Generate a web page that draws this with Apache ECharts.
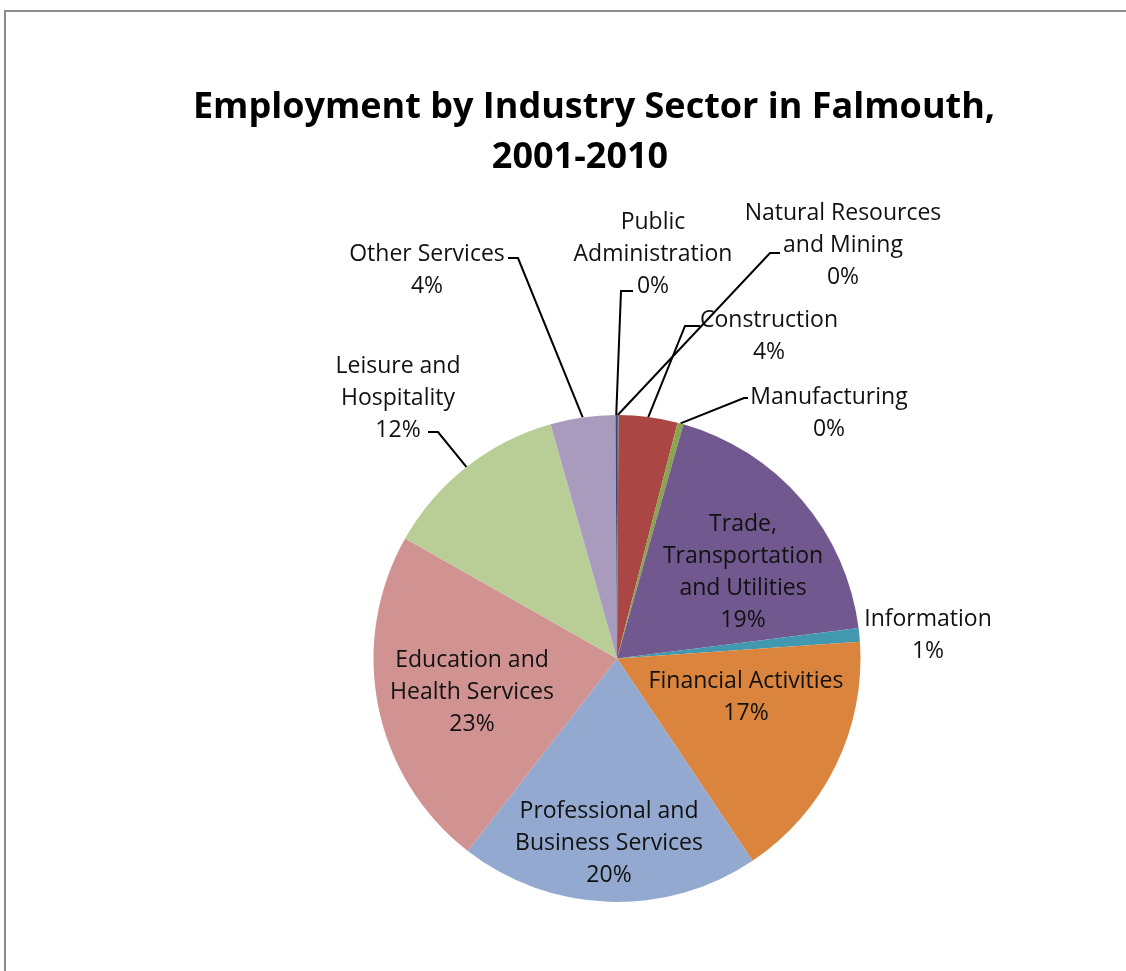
<!DOCTYPE html>
<html>
<head>
<meta charset="utf-8">
<script src="https://cdn.jsdelivr.net/npm/echarts@6/dist/echarts.min.js"></script>
<style>
html,body{margin:0;padding:0;background:#fff;}
#chart{width:1126px;height:971px;}
</style>
</head>
<body>
<div id="chart"></div>
<script>
// Data (percent share), clockwise from 12 o'clock
const categories = [
  'Natural Resources and Mining', 'Construction', 'Manufacturing',
  'Trade, Transportation and Utilities', 'Information', 'Financial Activities',
  'Professional and Business Services', 'Education and Health Services',
  'Leisure and Hospitality', 'Other Services', 'Public Administration'
];
const values = [0.1, 3.9, 0.4, 18.6, 0.9, 16.7, 19.9, 22.7, 12.4, 4.3, 0.1];
// Label text lines as displayed (wrapping)
const labelNames = [
  'Natural Resources\nand Mining', 'Construction', 'Manufacturing',
  'Trade,\nTransportation\nand Utilities', 'Information', 'Financial Activities',
  'Professional and\nBusiness Services', 'Education and\nHealth Services',
  'Leisure and\nHospitality', 'Other Services', 'Public\nAdministration'
];
const titleLines = ['Employment by Industry Sector in Falmouth,', '2001-2010'];
const colors = ['#4572A7', '#AA4643', '#89A54E', '#71588F', '#4198AF', '#DB843D',
                '#93A9CF', '#D19392', '#B9CD96', '#A99BBD', '#2C4D75'];

// label centre positions (layout only)
const labelPos = [
  [843, 245], [769, 336], [829, 413], [743, 572], [928, 635], [746, 697],
  [609, 843], [472, 692], [398, 398], [427, 270], [653, 254]
];
// leader-line end (where it meets the text) and bend offset (layout only)
const leaderEnd = {
  0: [[780, 253], -10], 1: [[700, 326], -15], 2: [[748, 398], -4],
  8: [[428, 432], 10], 9: [[508, 258], 10], 10: [[633, 291], -12]
};

const chart = echarts.init(document.getElementById('chart'));
const font = '"Open Sans", Lato, sans-serif';

const data = categories.map((c, i) => ({
  name: c,
  value: values[i],
  itemStyle: { color: colors[i] },
  labelLine: { show: leaderEnd[i] !== undefined }
}));

const cx = 617, cy = 658.5, R = 243.5;
const titleStyle = { fontFamily: font, fontWeight: 'bold', fontSize: 36, lineHeight: 50, color: '#000' };

chart.setOption({
  backgroundColor: '#fff',
  animation: false,
  graphic: [{
    type: 'rect', shape: { x: 5, y: 11, width: 1200, height: 1100 },
    style: { fill: null, stroke: '#8c8c8c', lineWidth: 2 }, silent: true
  }],
  title: [
    { text: titleLines[0], left: 589, top: 78, textAlign: 'center', textStyle: titleStyle },
    { text: titleLines[1], left: 575, top: 128, textAlign: 'center', textStyle: titleStyle }
  ],
  series: [{
    type: 'pie',
    center: [cx, cy],
    radius: R,
    startAngle: 90,
    clockwise: true,
    avoidLabelOverlap: false,
    percentPrecision: 0,
    data: data,
    label: {
      show: true,
      position: 'outside',
      formatter: p => labelNames[p.dataIndex] + '\n' + p.percent + '%',
      fontFamily: font,
      fontSize: 23,
      lineHeight: 32,
      color: '#111',
      align: 'center'
    },
    labelLine: {
      show: true, length: 10, length2: 10,
      lineStyle: { color: '#000', width: 2 }
    },
    labelLayout: function (p) {
      const i = p.dataIndex;
      const pos = labelPos[i];
      const out = { x: pos[0], y: pos[1], align: 'center', verticalAlign: 'middle', moveOverlap: false };
      const le = leaderEnd[i];
      if (le && p.labelLinePoints) {
        const start = p.labelLinePoints[0];
        out.labelLinePoints = [[start[0], start[1]], [le[0][0] + le[1], le[0][1]], [le[0][0], le[0][1]]];
      }
      return out;
    },
    emphasis: { disabled: true }
  }]
});
</script>
</body>
</html>
